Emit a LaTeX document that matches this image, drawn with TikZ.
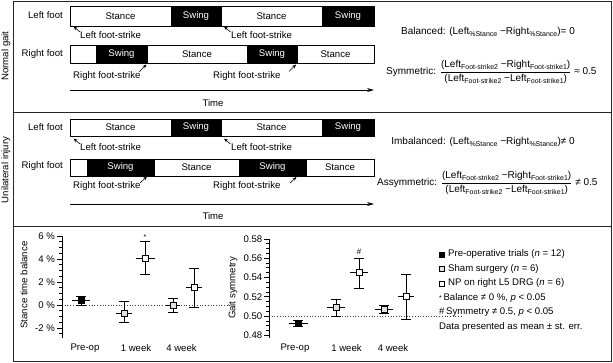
\documentclass[tikz,border=0pt]{standalone}
\usepackage{fontspec}
\setmainfont{Liberation Sans}
\usetikzlibrary{arrows.meta}
\newcommand{\lsub}[1]{\raisebox{-0.45ex}{\fontsize{7}{8}\selectfont #1}}
\newcommand{\Lpt}[7]{%
  \draw[eb] (#3-5,{305-11.5*(#5)}) -- (#3+5,{305-11.5*(#5)});
  \draw[eb] (#3-5,{305-11.5*(#6)}) -- (#3+5,{305-11.5*(#6)});
  \draw[eb] (#3,{305-11.5*(#5)}) -- (#3,{305-11.5*(#6)});
  \draw[eb] (#3-#7,{305-11.5*(#4)}) -- (#3+#7,{305-11.5*(#4)});
  \node[#2] (#1) at (#3,{305-11.5*(#4)}) {};}
\newcommand{\Rpt}[7]{%
  \draw[eb] (#3-5,{316-965*((#5)-0.5)}) -- (#3+5,{316-965*((#5)-0.5)});
  \draw[eb] (#3-5,{316-965*((#6)-0.5)}) -- (#3+5,{316-965*((#6)-0.5)});
  \draw[eb] (#3,{316-965*((#5)-0.5)}) -- (#3,{316-965*((#6)-0.5)});
  \draw[eb] (#3-#7,{316-965*((#4)-0.5)}) -- (#3+#7,{316-965*((#4)-0.5)});
  \node[#2] (#1) at (#3,{316-965*((#4)-0.5)}) {};}
\begin{document}
\begin{tikzpicture}[x=1pt,y=-1pt,font=\fontsize{9.6}{11.5}\selectfont,
  frame/.style={draw=black!85,line width=0.9pt},
  stbox/.style={draw=black,line width=0.7pt,fill=white,inner sep=0},
  swbox/.style={draw=black,line width=0.7pt,fill=black,text=white,inner sep=0},
  fs/.style={-{Stealth[length=4pt,width=3.2pt]},line width=0.6pt},
  timeax/.style={-{Stealth[length=7pt,width=4pt]},line width=0.7pt},
  ax/.style={line width=0.6pt},
  eb/.style={line width=0.6pt},
  zero/.style={dotted,line width=0.7pt,black!75},
  formula/.style={font=\fontsize{10}{12}\selectfont},
  mkpre/.style={draw,line width=0.6pt,fill=black,minimum size=6pt,inner sep=0},
  mksham/.style={draw,line width=0.6pt,fill=black!12,minimum size=6pt,inner sep=0},
  mknp/.style={draw,line width=0.6pt,fill=white,minimum size=6pt,inner sep=0},
  lg/.style={anchor=west,inner sep=0}]
\useasboundingbox (0,0) rectangle (613,362);
% frame
\draw[frame] (13,1) rectangle (611,361);
\draw[frame] (13,112) -- (611,112);
\draw[frame] (13,226) -- (611,226);
\node[rotate=90] (ng) at (6,56) {Normal gait};
\node[rotate=90] (ui) at (6,170) {Unilateral injury};
% ---------- panel 1 ----------
\node[anchor=east,inner sep=0] (lf1) at (63,15) {Left foot};
\node[anchor=east,inner sep=0] (rf1) at (63,54) {Right foot};
\node[stbox,minimum width=101,minimum height=20] (l1a) at (120.5,16) {Stance};
\node[swbox,minimum width=50,minimum height=20] (l1b) at (196,16) {Swing};
\node[stbox,minimum width=101,minimum height=20] (l1c) at (271.5,16) {Stance};
\node[swbox,minimum width=52,minimum height=20] (l1d) at (348,16) {Swing};
\node[stbox,minimum width=26,minimum height=18] (r1a) at (83,54) {};
\node[swbox,minimum width=51,minimum height=18] (r1b) at (121.5,54) {Swing};
\node[stbox,minimum width=100,minimum height=18] (r1c) at (197,54) {Stance};
\node[swbox,minimum width=50,minimum height=18] (r1d) at (272,54) {Swing};
\node[stbox,minimum width=77,minimum height=18] (r1e) at (335.5,54) {Stance};
\node[anchor=west,inner sep=0] (lfs1a) at (80,35) {Left foot-strike};
\node[anchor=west,inner sep=0] (lfs1b) at (231,35) {Left foot-strike};
\node[anchor=west,inner sep=0] (rfs1a) at (73,76) {Right foot-strike};
\node[anchor=west,inner sep=0] (rfs1b) at (213,76) {Right foot-strike};
\coordinate (a1s) at (80,32); \coordinate (a1e) at (73.5,26.5);
\coordinate (a2s) at (230.5,32); \coordinate (a2e) at (224,26.5);
\coordinate (a3s) at (139,72); \coordinate (a3e) at (146.5,64.5);
\coordinate (a4s) at (289,71.5); \coordinate (a4e) at (296,64.5);
\draw[fs] (a1s) -- (a1e);
\draw[fs] (a2s) -- (a2e);
\draw[fs] (a3s) -- (a3e);
\draw[fs] (a4s) -- (a4e);
\coordinate (t1s) at (70,90); \coordinate (t1e) at (374,90);
\draw[timeax] (t1s) -- (t1e);
\node (time1) at (213,103) {Time};
\node[formula] (bal) at (488,32) {Balanced: (Left\lsub{\%Stance} −Right\lsub{\%Stance})=~0};
\node[formula,anchor=west,inner sep=0] (sym) at (386,72) {Symmetric: $\displaystyle\frac{\hbox{(Left\lsub{Foot-strike2} −Right\lsub{Foot-strike1})}}{\hbox{(Left\lsub{Foot-strike2} −Left\lsub{Foot-strike1})}}$ ≈ 0.5};
% ---------- panel 2 ----------
\node[anchor=east,inner sep=0] (lf2) at (63,127) {Left foot};
\node[anchor=east,inner sep=0] (rf2) at (63,166) {Right foot};
\node[stbox,minimum width=101,minimum height=17] (l2a) at (120.5,127.5) {Stance};
\node[swbox,minimum width=50,minimum height=17] (l2b) at (196,127.5) {Swing};
\node[stbox,minimum width=101,minimum height=17] (l2c) at (271.5,127.5) {Stance};
\node[swbox,minimum width=52,minimum height=17] (l2d) at (348,127.5) {Swing};
\node[stbox,minimum width=17,minimum height=17] (r2a) at (78.5,167.5) {};
\node[swbox,minimum width=67,minimum height=17] (r2b) at (120.5,167.5) {Swing};
\node[stbox,minimum width=85,minimum height=17] (r2c) at (196.5,167.5) {Stance};
\node[swbox,minimum width=67,minimum height=17] (r2d) at (272.5,167.5) {Swing};
\node[stbox,minimum width=68,minimum height=17] (r2e) at (340,167.5) {Stance};
\node[anchor=west,inner sep=0] (lfs2a) at (80,147) {Left foot-strike};
\node[anchor=west,inner sep=0] (lfs2b) at (231,147) {Left foot-strike};
\node[anchor=west,inner sep=0] (rfs2a) at (73,186) {Right foot-strike};
\node[anchor=west,inner sep=0] (rfs2b) at (213,186) {Right foot-strike};
\coordinate (b1s) at (80,144); \coordinate (b1e) at (73.5,138.5);
\coordinate (b2s) at (230.5,144); \coordinate (b2e) at (224,138.5);
\coordinate (b3s) at (140,183); \coordinate (b3e) at (147,176.5);
\coordinate (b4s) at (290,183); \coordinate (b4e) at (296.5,177);
\draw[fs] (b1s) -- (b1e);
\draw[fs] (b2s) -- (b2e);
\draw[fs] (b3s) -- (b3e);
\draw[fs] (b4s) -- (b4e);
\coordinate (t2s) at (70,204); \coordinate (t2e) at (374,204);
\draw[timeax] (t2s) -- (t2e);
\node (time2) at (213,216) {Time};
\node[formula] (imbal) at (483,142) {Imbalanced: (Left\lsub{\%Stance} −Right\lsub{\%Stance})≠~0};
\node[formula,anchor=west,inner sep=0] (asym) at (377,183) {Assymmetric: $\displaystyle\frac{\hbox{(Left\lsub{Foot-strike2} −Right\lsub{Foot-strike1})}}{\hbox{(Left\lsub{Foot-strike2} −Left\lsub{Foot-strike1})}}$ ≠ 0.5};
% ---------- left chart ----------
\draw[zero] (62,305) -- (230,305);
\draw[ax] (62,236) -- (62,337.5);
\foreach \i in {0,...,17} {\draw[ax] (62,{333.75-5.75*\i}) -- (59,{333.75-5.75*\i});}
\foreach \v in {6,4,2,0,-2} {
  \draw[ax] (62,{305-11.5*(\v)}) -- (57,{305-11.5*(\v)});
  \node[anchor=east,inner sep=0] at (55,{305-11.5*(\v)}) {\v~\%};}
\node[rotate=90] (ylab1) at (24,285) {Stance time balance};
\Lpt{lpre}{mkpre}{81}{0.4}{0.0}{0.8}{9}
\Lpt{lsh1}{mksham}{124}{-0.7}{-1.5}{0.3}{8}
\Lpt{lnp1}{mknp}{145}{4.1}{2.7}{5.5}{9.5}
\Lpt{lsh4}{mksham}{173}{0.0}{-0.6}{0.6}{7}
\Lpt{lnp4}{mknp}{194}{1.5}{-0.2}{3.2}{8}
\node[font=\fontsize{7}{8}\selectfont,inner sep=0] (star) at (145,237) {*};
\node (xl1) at (85,348) {Pre-op};
\node (xl2) at (136,348) {1 week};
\node (xl3) at (181.5,348) {4 week};
% ---------- right chart ----------
\draw[zero] (269,316) -- (463,316);
\draw[ax] (269,238.8) -- (269,337.5);
\foreach \i in {0,...,20} {\draw[ax] (269,{335.3-4.825*\i}) -- (266,{335.3-4.825*\i});}
\foreach \i/\t in {0/0.48,4/0.50,8/0.52,12/0.54,16/0.56,20/0.58} {
  \draw[ax] (269,{335.3-4.825*\i}) -- (264,{335.3-4.825*\i});
  \node[anchor=east,inner sep=0] at (262.5,{335.3-4.825*\i}) {\t};}
\node[rotate=90] (ylab2) at (233,288) {Gait symmetry};
\Rpt{rpre}{mkpre}{298}{0.492}{0.489}{0.496}{9.5}
\Rpt{rsh1}{mksham}{336}{0.509}{0.500}{0.517}{9}
\Rpt{rnp1}{mknp}{359}{0.545}{0.529}{0.560}{9}
\Rpt{rsh4}{mksham}{384}{0.507}{0.503}{0.511}{9}
\Rpt{rnp4}{mknp}{406}{0.520}{0.497}{0.543}{8}
\node[font=\fontsize{8}{9}\selectfont,inner sep=0] (hash) at (359,252) {\#};
\node (xr1) at (295,348) {Pre-op};
\node (xr2) at (346.5,348) {1 week};
\node (xr3) at (393,348) {4 week};
% ---------- legend ----------
\node[draw,fill=black,minimum size=5pt,inner sep=0] (lgm1) at (441.5,254.5) {};
\node[draw,fill=black!12,minimum size=5pt,inner sep=0] (lgm2) at (441.5,269) {};
\node[draw,fill=white,minimum size=5pt,inner sep=0] (lgm3) at (441.5,283.5) {};
\node[lg] (lg1) at (448,254.5) {Pre-operative trials (\textit{n} = 12)};
\node[lg] (lg2) at (448,269) {Sham surgery (\textit{n} = 6)};
\node[lg] (lg3) at (448,283.5) {NP on right L5 DRG (\textit{n} = 6)};
\node[lg] (lg4) at (439,298) {{\fontsize{7}{8}\selectfont *}\,Balance ≠ 0 \%, \textit{p} < 0.05};
\node[lg] (lg5) at (439,312.5) {\#\,Symmetry ≠ 0.5, \textit{p} < 0.05};
\node[lg] (lg6) at (439,327) {Data presented as mean ± st. err.};
\end{tikzpicture}
\end{document}
